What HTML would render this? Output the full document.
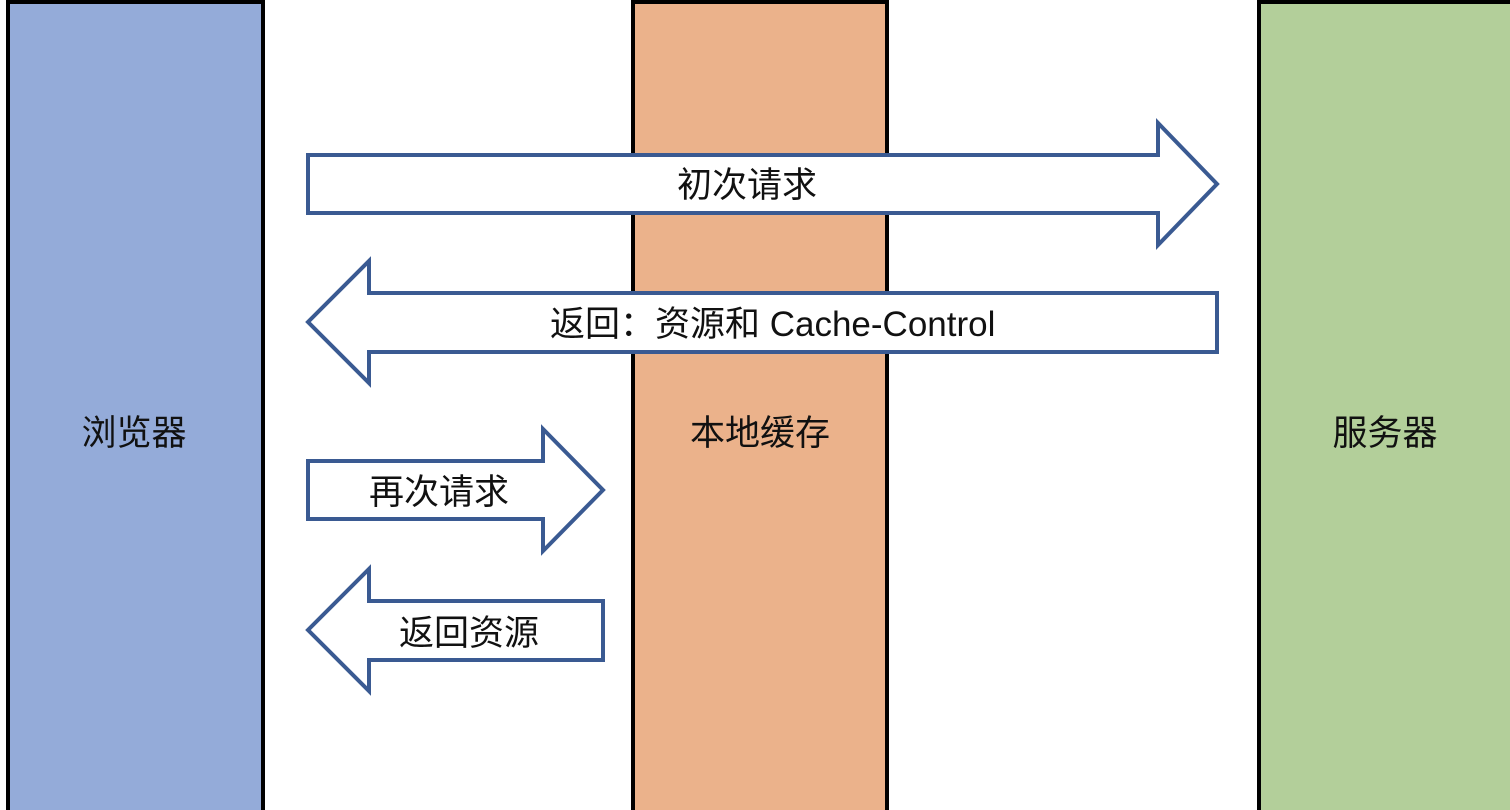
<!DOCTYPE html>
<html><head><meta charset="utf-8"><style>
html,body{margin:0;padding:0;background:#fff;width:1510px;height:810px;overflow:hidden}
svg text{font-family:"Liberation Sans","Noto Sans CJK SC",sans-serif;font-size:35px;fill:#111}
</style></head><body>
<svg width="1510" height="810" xmlns="http://www.w3.org/2000/svg">
<rect x="8" y="2" width="255" height="820" fill="#94abd9" stroke="#000" stroke-width="4"/>
<rect x="633" y="2" width="254" height="820" fill="#ebb28b" stroke="#000" stroke-width="4"/>
<rect x="1259" y="2" width="270" height="820" fill="#b3cf9a" stroke="#000" stroke-width="4"/>
<g fill="#fff" stroke="#3a5a92" stroke-width="4" stroke-linejoin="miter">
<polygon points="308,155 1158,155 1158,123 1217,184 1158,245 1158,213 308,213"/>
<polygon points="1217,293 369,293 369,261 308,322 369,383 369,352 1217,352"/>
<polygon points="308,461 543,461 543,429 603,490 543,551 543,519 308,519"/>
<polygon points="603,601 369,601 369,569 308,630 369,691 369,660 603,660"/>
</g>
<text x="747" y="197" text-anchor="middle">初次请求</text>
<text x="550" y="336">返回：资源和 Cache-Control</text>
<text x="439" y="504" text-anchor="middle">再次请求</text>
<text x="469" y="645" text-anchor="middle">返回资源</text>
<text x="134" y="445" text-anchor="middle">浏览器</text>
<text x="760" y="445" text-anchor="middle">本地缓存</text>
<text x="1385" y="445" text-anchor="middle">服务器</text>
</svg>
</body></html>
